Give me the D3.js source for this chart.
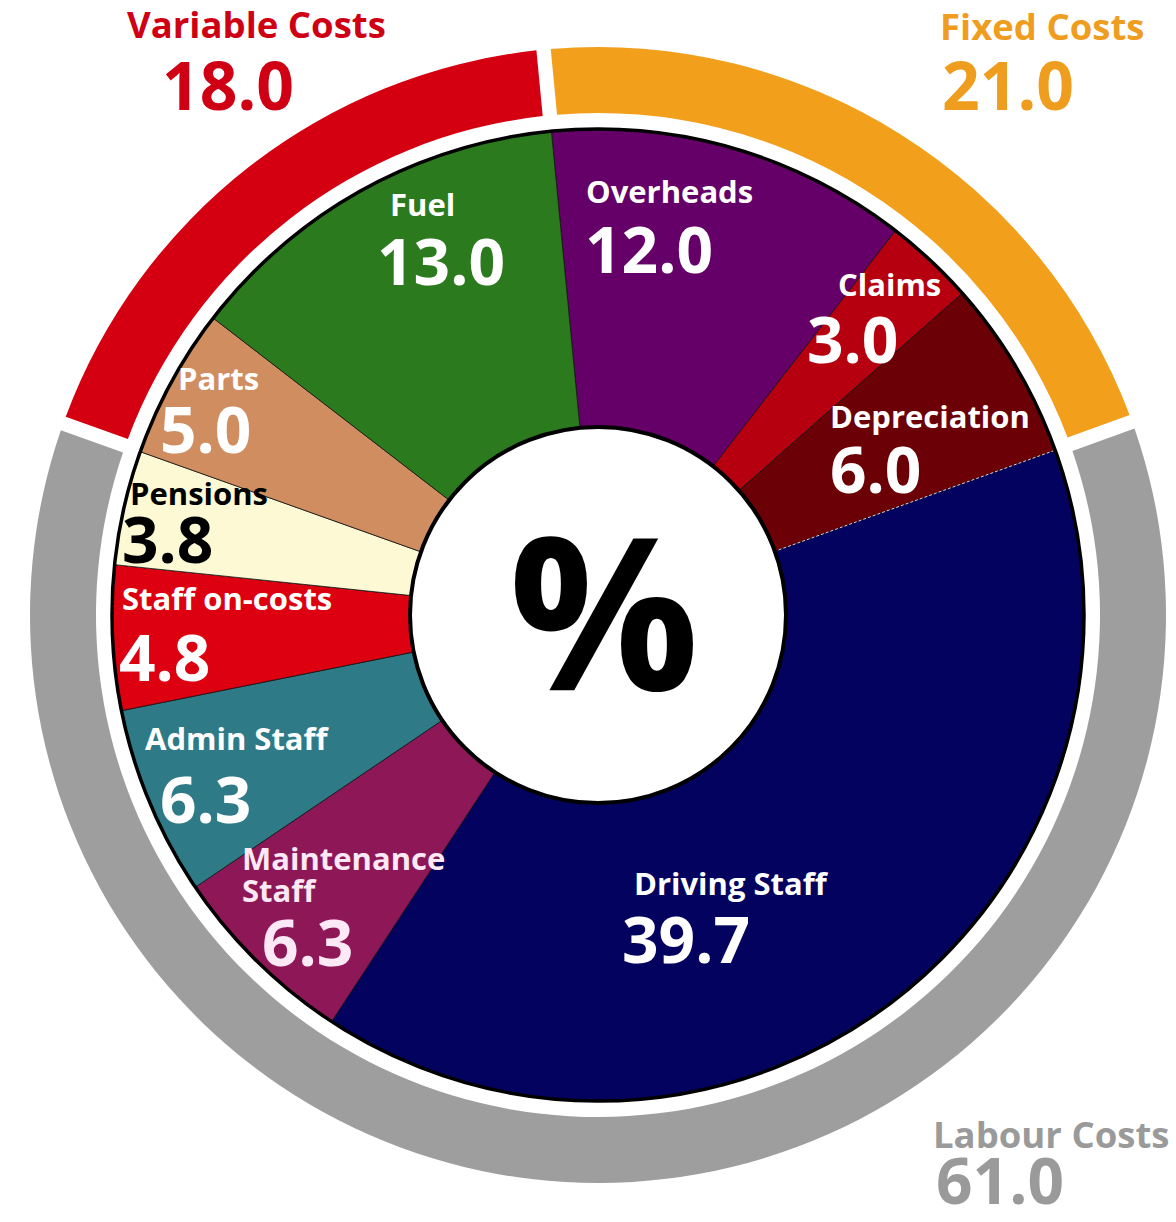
<!DOCTYPE html>
<html>
<head>
<meta charset="utf-8">
<title>Cost breakdown (%)</title>
<script src="https://cdn.jsdelivr.net/npm/d3@7"></script>
<style>
    html, body { margin: 0; padding: 0; background: #fff; }
    #chart { width: 1176px; height: 1222px; }
    text { font-family: "Open Sans", "Noto Sans", sans-serif; font-weight: 700; }
</style>
</head>
<body>
<div id="chart"></div>
<script>
/* --- Data --- */

// inner ring, clockwise from the top
const costItems = ['Overheads', 'Claims', 'Depreciation', 'Driving Staff', 'Maintenance Staff',
    'Admin Staff', 'Staff on-costs', 'Pensions', 'Parts', 'Fuel'];
const costShares = [12.0, 3.0, 6.0, 39.7, 6.3, 6.3, 4.8, 3.8, 5.0, 13.0];

// outer ring groups
const costGroups = ['Fixed Costs', 'Labour Costs', 'Variable Costs'];
const groupShares = [21.0, 61.0, 18.0];

/* --- Look --- */
const CONFIG = {
    width: 1176,
    height: 1222,
    cx: 598,
    cy: 615,
    holeR: 188,
    pieR: 486,
    ringIn: 502,
    ringOut: 568,
    startDeg: -5.5,
    itemColors: {
        'Overheads': '#650068',
        'Claims': '#b6000f',
        'Depreciation': '#6b0006',
        'Driving Staff': '#03035f',
        'Maintenance Staff': '#8e1758',
        'Admin Staff': '#2f7a87',
        'Staff on-costs': '#dc0011',
        'Pensions': '#fcf9d4',
        'Parts': '#cf8d60',
        'Fuel': '#2c7a1e'
    },
    groupColors: {
        'Fixed Costs': '#f29f1b',
        'Labour Costs': '#9e9e9e',
        'Variable Costs': '#d40012'
    },
    groupText: {
        'Fixed Costs': '#ef9d1f',
        'Labour Costs': '#9a9a9a',
        'Variable Costs': '#d00014'
    }
};

// hand placed label anchors: name x, name baseline, number x, number baseline
const itemLabelAt = {
    'Overheads': [586, 203, 585, 273],
    'Claims': [838, 296, 807, 363],
    'Depreciation': [830, 428, 830, 493],
    'Driving Staff': [634, 895, 622, 963],
    'Maintenance Staff': [242, 870, 262, 966],
    'Admin Staff': [145, 750, 160, 823],
    'Staff on-costs': [122, 610, 119, 681],
    'Pensions': [130, 505, 122, 563],
    'Parts': [178, 390, 160, 453],
    'Fuel': [390, 216, 377, 285]
};
const groupLabelAt = {
    'Variable Costs': [127, 38, 162, 110],
    'Fixed Costs': [940, 40, 942, 110],
    'Labour Costs': [933, 1148, 936, 1204]
};

/* --- Chart --- */
const svg = d3.select('#chart').append('svg')
    .attr('width', CONFIG.width)
    .attr('height', CONFIG.height);

const g = svg.append('g')
    .attr('transform', `translate(${CONFIG.cx},${CONFIG.cy})`);

const start = CONFIG.startDeg * Math.PI / 180;

const pie = d3.pie()
    .sort(null)
    .value(d => d.value)
    .startAngle(start)
    .endAngle(start + 2 * Math.PI);

// outer ring
const ringData = pie(costGroups.map((name, i) => ({ name, value: groupShares[i] })));
const ringArc = d3.arc()
    .innerRadius(CONFIG.ringIn)
    .outerRadius(CONFIG.ringOut)
    .padAngle(0.019);

g.selectAll('path.ring')
    .data(ringData)
    .enter().append('path')
    .attr('class', 'ring')
    .attr('d', ringArc)
    .attr('fill', d => CONFIG.groupColors[d.data.name]);

// inner donut
const itemData = pie(costItems.map((name, i) => ({ name, value: costShares[i] })));
const itemArc = d3.arc()
    .innerRadius(CONFIG.holeR)
    .outerRadius(CONFIG.pieR);

g.selectAll('path.item')
    .data(itemData)
    .enter().append('path')
    .attr('class', 'item')
    .attr('d', itemArc)
    .attr('fill', d => CONFIG.itemColors[d.data.name])
    .attr('stroke', '#111')
    .attr('stroke-width', 0.8);

// faint dashed seam where Driving Staff starts
const driving = itemData.find(d => d.data.name === 'Driving Staff');
g.append('path')
    .attr('d', d3.line()([
        d3.pointRadial(driving.startAngle, CONFIG.holeR + 4),
        d3.pointRadial(driving.startAngle, CONFIG.pieR - 2)
    ]))
    .attr('stroke', '#e8c8d8')
    .attr('stroke-width', 1)
    .attr('stroke-dasharray', '3,2');

// outlines
g.append('circle')
    .attr('r', CONFIG.pieR)
    .attr('fill', 'none')
    .attr('stroke', '#000')
    .attr('stroke-width', 3.5);

g.append('circle')
    .attr('r', CONFIG.holeR)
    .attr('fill', '#fff')
    .attr('stroke', '#000')
    .attr('stroke-width', 4);

g.append('text')
    .attr('x', 6)
    .attr('y', 75)
    .attr('text-anchor', 'middle')
    .attr('font-size', 212)
    .attr('fill', '#000')
    .text('%');

/* --- Labels --- */
const labels = svg.append('g');

itemData.forEach(d => {
    const name = d.data.name;
    const [x, y, xNum, yNum] = itemLabelAt[name];
    const colour = name === 'Pensions' ? '#000' : (name === 'Maintenance Staff' ? '#fde9f5' : '#fff');
    const lines = name === 'Maintenance Staff' ? ['Maintenance', 'Staff'] : [name];

    const t = labels.append('text')
        .attr('x', x)
        .attr('y', y)
        .attr('font-size', 31)
        .attr('fill', colour);
    lines.forEach((line, i) => {
        t.append('tspan')
            .attr('x', x)
            .attr('dy', i === 0 ? 0 : 32)
            .text(line);
    });

    labels.append('text')
        .attr('x', xNum)
        .attr('y', yNum)
        .attr('font-size', 64)
        .attr('fill', colour)
        .text(d3.format('.1f')(d.data.value));
});

ringData.forEach(d => {
    const name = d.data.name;
    const [x, y, xNum, yNum] = groupLabelAt[name];
    labels.append('text')
        .attr('x', x)
        .attr('y', y)
        .attr('font-size', 36.5)
        .attr('fill', CONFIG.groupText[name])
        .text(name);
    labels.append('text')
        .attr('x', xNum)
        .attr('y', yNum)
        .attr('font-size', name === 'Labour Costs' ? 64 : 66)
        .attr('fill', CONFIG.groupText[name])
        .text(d3.format('.1f')(d.data.value));
});
</script>
</body>
</html>
